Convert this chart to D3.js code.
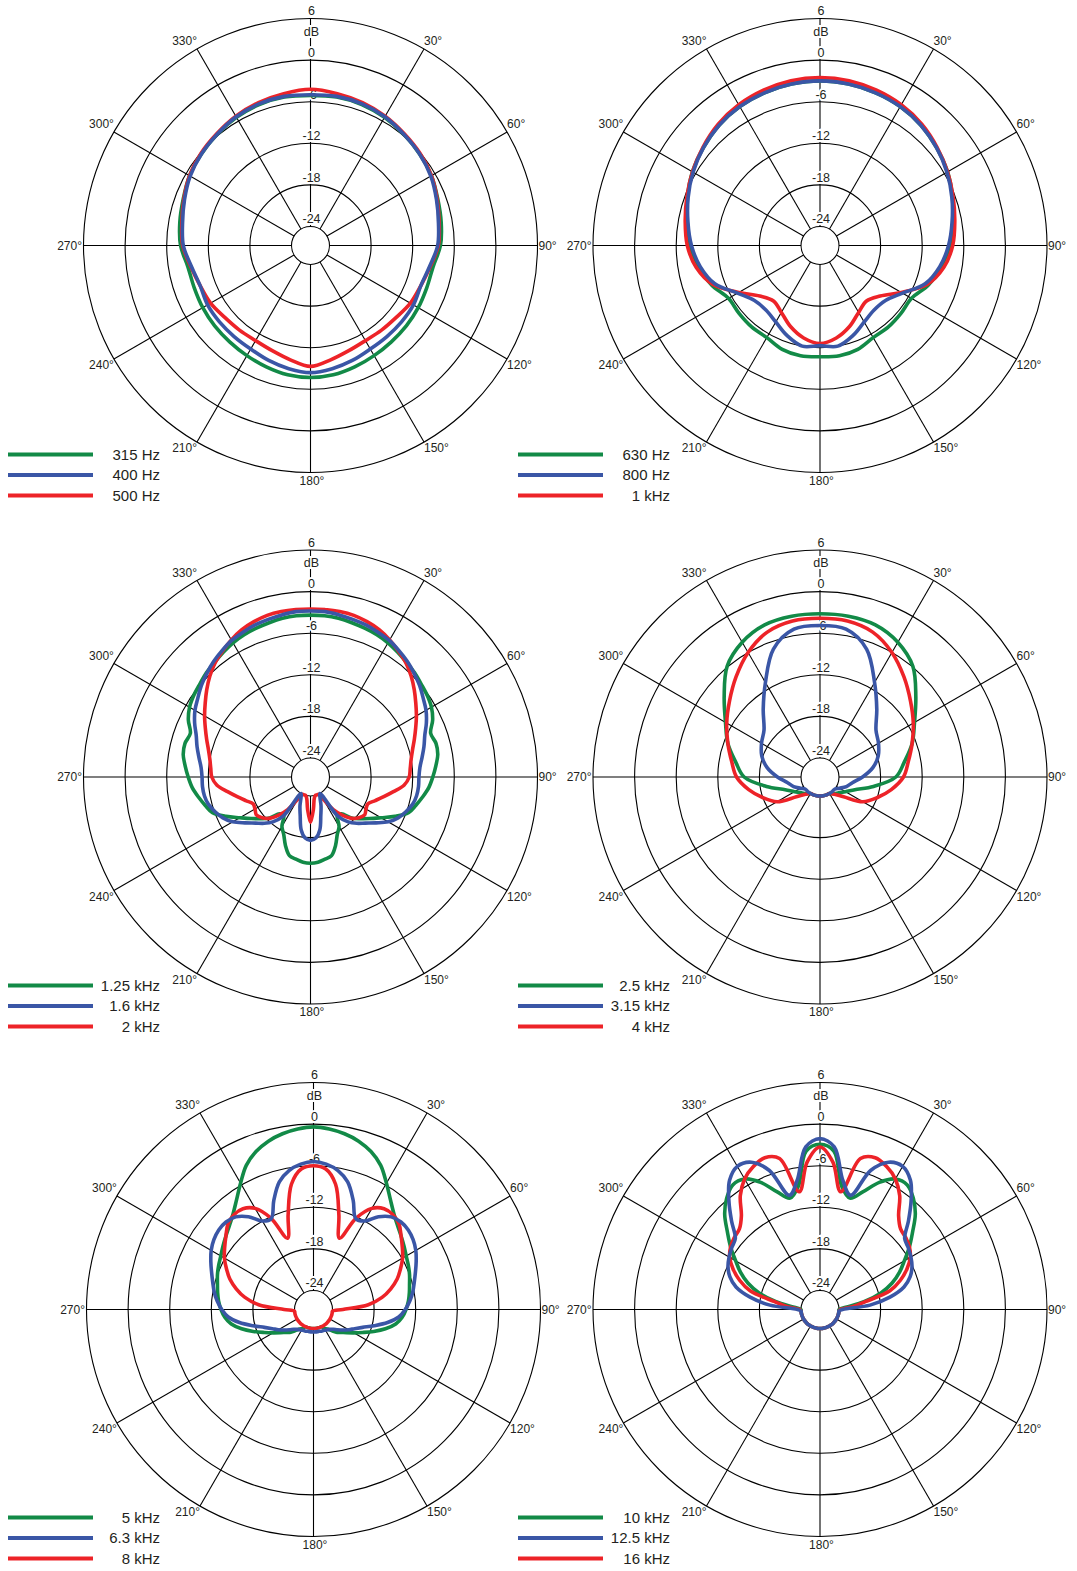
<!DOCTYPE html>
<html>
<head>
<meta charset="utf-8">
<script src="https://cdn.jsdelivr.net/npm/d3@7"></script>
<style>
body { margin: 0; background: #fff; }
svg { display: block; font-family: "Liberation Sans", Arial, Helvetica, sans-serif; }
</style>
</head>
<body>
<svg id="chart" width="1077" height="1571"></svg>
<script>
// angles in degrees, 0 = on axis (top), clockwise. Only 0..180 is listed,
// the pattern is symmetric so the left half mirrors the right half.
const ang10 = [0,10,20,30,40,50,60,70,80,90,100,110,120,130,140,150,160,170,180];
const ang5 = [0,5,10,15,20,25,30,35,40,45,50,55,60,65,70,75,80,85,90,95,100,105,110,115,120,125,130,135,140,145,150,155,160,165,170,175,180];

const ringDb = [6, 0, -6, -12, -18, -24];
const ringText = ["6", "0", "-6", "-12", "-18", "-24"];
const spokeDeg = [0,30,60,90,120,150,180,210,240,270,300,330];
const spokeText = ["","30°","60°","90°","120°","150°","180°","210°","240°","270°","300°","330°"];

// 315 / 400 / 500 Hz
const db315 = [-5.1,-5.0,-5.1,-5.4,-5.8,-6.2,-6.6,-7.2,-7.6,-8.0,-8.8,-8.9,-8.8,-8.7,-8.6,-8.4,-8.1,-7.8,-7.7];
const db400 = [-5.0,-4.9,-5.0,-5.3,-5.8,-6.2,-6.7,-7.4,-8.0,-8.4,-9.3,-9.8,-9.6,-9.6,-9.6,-9.5,-9.1,-8.7,-8.4];
const db500 = [-4.2,-4.5,-4.8,-5.2,-5.7,-6.1,-6.6,-7.3,-7.9,-8.3,-9.2,-9.8,-10.1,-10.6,-10.8,-10.9,-10.6,-10.0,-9.3];

// 630 / 800 / 1k
const db630 = [-3.0,-3.1,-3.3,-3.6,-4.1,-4.8,-5.5,-6.4,-7.3,-8.0,-9.0,-10.1,-11.5,-11.5,-11.4,-11.4,-10.8,-10.6,-10.7];
const db800 = [-3.0,-3.1,-3.3,-3.6,-4.1,-4.8,-5.6,-6.5,-7.4,-8.2,-9.2,-10.6,-13.0,-14.4,-14.6,-14.0,-12.9,-12.0,-12.3];
const db1k = [-2.5,-2.6,-2.9,-3.3,-3.9,-4.7,-5.5,-6.3,-7.0,-7.6,-8.6,-10.3,-13.2,-15.4,-16.3,-15.6,-14.3,-13.2,-12.6];

// 1.25k / 1.6k / 2k  (5 degree steps)
const db1k25 = [-3.4,-3.4,-3.5,-3.7,-3.9,-4.1,-4.4,-4.8,-5.2,-5.5,-5.9,-6.2,-6.6,-7.3,-8.3,-8.0,-8.1,-8.6,-9.1,-9.6,-10.3,-11.0,-11.7,-13.3,-15.0,-16.3,-17.4,-18.4,-19.8,-20.0,-18.5,-17.6,-16.2,-15.0,-14.7,-14.4,-14.3];
const db1k6 = [-2.8,-2.8,-3.0,-3.2,-3.4,-3.7,-4.0,-4.5,-5.0,-5.6,-6.2,-6.9,-7.5,-8.3,-9.2,-9.8,-10.4,-10.9,-11.1,-11.1,-11.2,-11.5,-12.1,-12.8,-13.8,-15.2,-16.4,-17.3,-18.3,-19.8,-24,-23.5,-22.3,-21.0,-19.0,-17.9,-17.6];
const db2k = [-2.5,-2.5,-2.5,-2.6,-2.9,-3.3,-3.9,-4.6,-5.3,-6.2,-7.2,-8.2,-9.1,-10.0,-10.8,-11.5,-12.0,-12.3,-12.5,-13.2,-14.6,-15.8,-16.8,-17.6,-17.5,-17.2,-17.6,-18.3,-19.5,-21.0,-23.0,-24,-24,-24,-23.6,-22.0,-20.2];

// 2.5k / 3.15k / 4k
const db2k5 = [-3.2,-3.2,-3.4,-4.3,-5.9,-8.7,-11.0,-12.6,-14.4,-15.8,-18.9,-21.4,-22.5,-23.2,-23.6,-24,-24,-24,-24];
const db3k15 = [-4.9,-5.1,-7.1,-11.0,-14.0,-16.2,-17.0,-17.8,-19.0,-20.6,-22.0,-22.7,-23.5,-24,-24,-24,-24,-24,-24];
const db4k = [-3.85,-3.9,-4.5,-6.0,-7.9,-9.7,-11.2,-12.6,-13.8,-14.7,-16.3,-18.0,-19.6,-22.3,-23.5,-24,-24,-24,-24];

// 5k / 6.3k / 8k  (5 degree steps)
const db5k = [-0.4,-0.6,-1.0,-1.6,-2.5,-3.8,-5.7,-7.4,-8.7,-9.6,-10.25,-10.8,-11.3,-11.65,-12.0,-12.4,-12.7,-13.0,-13.4,-13.9,-14.7,-16.0,-17.5,-18.9,-20.0,-20.9,-21.6,-22.1,-22.8,-23.3,-23.6,-24,-24,-24,-24,-24,-24];
const db6k3 = [-5.4,-5.7,-6.4,-7.7,-10.0,-12.3,-12.0,-10.4,-9.3,-8.9,-8.9,-9.2,-9.7,-10.4,-11.1,-11.7,-12.2,-12.8,-13.5,-14.4,-15.9,-17.7,-19.2,-20.2,-20.9,-21.6,-22.2,-22.7,-23.0,-23.2,-23.3,-23.4,-23.4,-23.5,-23.5,-23.5,-23.5];
const db8k = [-6.0,-6.4,-8.4,-12.6,-15.8,-12.2,-9.9,-9.0,-8.9,-9.3,-10.25,-11.1,-11.9,-12.9,-13.9,-15.2,-16.7,-18.8,-22.5,-24,-24,-24,-24,-24,-24,-24,-24,-24,-24,-24,-24,-24,-24,-24,-24,-24,-24];

// 10k / 12.5k / 16k  (5 degree steps)
const db10k = [-2.9,-3.8,-8.7,-10.1,-8.7,-6.5,-5.0,-4.8,-5.8,-7.3,-9.3,-11.0,-12.7,-14.1,-15.7,-17.7,-20.3,-23.0,-24,-24,-24,-24,-24,-24,-24,-24,-24,-24,-24,-24,-24,-24,-24,-24,-24,-24,-24];
const db12k5 = [-2.1,-3.2,-7.8,-9.7,-5.4,-3.3,-2.9,-4.0,-6.3,-8.7,-10.8,-11.2,-11.6,-12.1,-12.9,-14.2,-16.5,-19.5,-23.5,-24,-24,-24,-24,-24,-24,-24,-24,-24,-24,-24,-24,-24,-24,-24,-24,-24,-24];
const db16k = [-3.3,-5.4,-9.5,-4.2,-3.45,-4.0,-5.0,-6.7,-9.1,-10.3,-10.6,-11.0,-11.7,-12.9,-14.4,-16.3,-20.0,-22.0,-23.8,-24,-24,-24,-24,-24,-24,-24,-24,-24,-24,-24,-24,-24,-24,-24,-24,-24,-24];

const bandNames = [
  ["315 Hz", "400 Hz", "500 Hz"],
  ["630 Hz", "800 Hz", "1 kHz"],
  ["1.25 kHz", "1.6 kHz", "2 kHz"],
  ["2.5 kHz", "3.15 kHz", "4 kHz"],
  ["5 kHz", "6.3 kHz", "8 kHz"],
  ["10 kHz", "12.5 kHz", "16 kHz"]
];
const seriesColors = ["#128a47", "#3a56a6", "#ed2328"];

const plots = [
  { cx: 310.5, cy: 245.5, col: 0, row: 0, ang: ang10, curves: [db315, db400, db500] },
  { cx: 820,   cy: 245.5, col: 1, row: 0, ang: ang10, curves: [db630, db800, db1k] },
  { cx: 310.5, cy: 777,   col: 0, row: 1, ang: ang5,  curves: [db1k25, db1k6, db2k] },
  { cx: 820,   cy: 777,   col: 1, row: 1, ang: ang10, curves: [db2k5, db3k15, db4k] },
  { cx: 313.5, cy: 1309.5, col: 0, row: 2, ang: ang5, curves: [db5k, db6k3, db8k] },
  { cx: 820,   cy: 1309.5, col: 1, row: 2, ang: ang5, curves: [db10k, db12k5, db16k] }
];
const legendTop = [454.5, 985.5, 1517.5];
const legendLeft = [8, 518];

const svg = d3.select("#chart");
const r = d3.scaleLinear().domain([-24, 6]).range([19, 227]).clamp(true);
const rad = d => d * Math.PI / 180;

function fullPattern(ang, vals) {
  const pts = ang.map((a, i) => ({ a: a, v: vals[i] }));
  for (let i = ang.length - 2; i > 0; i--) {
    pts.push({ a: 360 - ang[i], v: vals[i] });
  }
  return pts;
}

const line = d3.lineRadial()
  .angle(d => rad(d.a))
  .radius(d => r(d.v))
  .curve(d3.curveCatmullRomClosed.alpha(0.5));

function haloText(sel) {
  sel.style("font-size", "12.5px")
    .style("fill", "#231f20")
    .style("stroke", "#fff")
    .style("stroke-width", "4px")
    .style("paint-order", "stroke");
}

plots.forEach((p, pi) => {
  const g = svg.append("g").attr("transform", `translate(${p.cx},${p.cy})`);
  const rOut = r(6);

  g.selectAll(".ring")
    .data(ringDb)
    .enter().append("circle")
    .attr("r", d => r(d))
    .attr("fill", "none")
    .attr("stroke", "#000")
    .attr("stroke-width", 1.1);

  g.selectAll(".spoke")
    .data(spokeDeg)
    .enter().append("line")
    .attr("x1", d => r(-24) * Math.sin(rad(d)))
    .attr("y1", d => -r(-24) * Math.cos(rad(d)))
    .attr("x2", d => rOut * Math.sin(rad(d)))
    .attr("y2", d => -rOut * Math.cos(rad(d)))
    .attr("stroke", "#000")
    .attr("stroke-width", 1.1);

  // dB scale along the 0 degree spoke
  g.selectAll(".dbl")
    .data(ringDb)
    .enter().append("text")
    .attr("x", 1)
    .attr("y", d => -r(d) - 7.5)
    .attr("dy", "0.35em")
    .attr("text-anchor", "middle")
    .text((d, i) => ringText[i])
    .call(haloText);

  g.append("text")
    .attr("x", 1)
    .attr("y", -r(0) - 28.5)
    .attr("dy", "0.35em")
    .attr("text-anchor", "middle")
    .text("dB")
    .call(haloText);

  // angle labels sit just outside the point where the spoke meets the rim
  g.selectAll(".angl")
    .data(spokeDeg.filter(d => d !== 0))
    .enter().append("text")
    .attr("x", d => {
      const s = Math.sin(rad(d));
      return rOut * s + (Math.abs(s) > 0.99 ? (s > 0 ? 1 : -1.5) : (Math.abs(s) < 0.01 ? 1.5 : 0));
    })
    .attr("y", d => {
      const c = Math.cos(rad(d));
      let off = 0;
      if (c > 0.01) off = -8;
      else if (c < -0.99) off = 8;
      else if (c < -0.01) off = 6;
      return -rOut * c + off;
    })
    .attr("dy", "0.35em")
    .attr("text-anchor", d => {
      const s = Math.sin(rad(d));
      return s > 0.01 ? "start" : (s < -0.01 ? "end" : "middle");
    })
    .text(d => spokeText[spokeDeg.indexOf(d)])
    .style("font-size", "12px")
    .style("fill", "#231f20");

  const order = [0, 2, 1];
  order.forEach(si => {
    g.append("path")
      .attr("d", line(fullPattern(p.ang, p.curves[si])))
      .attr("fill", "none")
      .attr("stroke", seriesColors[si])
      .attr("stroke-width", 3.6)
      .attr("stroke-linejoin", "round");
  });

  const lg = svg.append("g")
    .attr("transform", `translate(${legendLeft[p.col]},${legendTop[p.row]})`);
  bandNames[pi].forEach((name, i) => {
    lg.append("line")
      .attr("x1", 0).attr("x2", 85)
      .attr("y1", i * 20.5).attr("y2", i * 20.5)
      .attr("stroke", seriesColors[i])
      .attr("stroke-width", 4);
    lg.append("text")
      .attr("x", 152)
      .attr("y", i * 20.5)
      .attr("dy", "0.36em")
      .attr("text-anchor", "end")
      .text(name)
      .style("font-size", "15px")
      .style("fill", "#231f20");
  });
});
</script>
</body>
</html>
